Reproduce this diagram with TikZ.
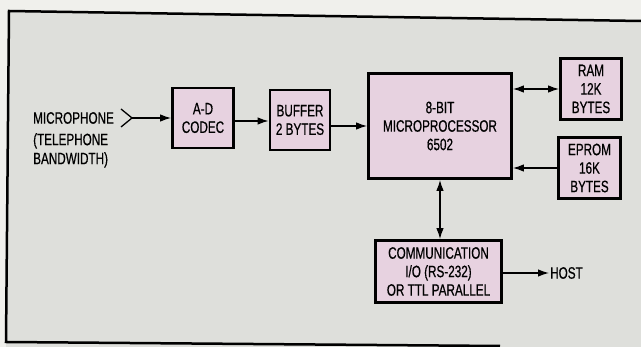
\documentclass[tikz,border=0pt]{standalone}
\usepackage{fontspec}
\setmainfont{Liberation Sans}[FakeStretch=0.71,FakeBold=0.6]
\usetikzlibrary{positioning,arrows.meta}
\definecolor{chip}{RGB}{231,210,224}
\definecolor{paper}{RGB}{222,223,219}
\definecolor{margin}{RGB}{240,240,236}

\begin{document}
\begin{tikzpicture}[x=1pt,y=-1pt, >={Latex[length=11pt,width=7.5pt]},
  blk/.style={draw,line width=2.8pt,fill=chip,align=center,inner sep=0pt,font=\fontsize{16.5}{18.5}\selectfont},
  lbl/.style={align=left,inner sep=1pt,font=\fontsize{16.5}{19}\selectfont},
  wire/.style={line width=1.3pt}]
\useasboundingbox (0,0) rectangle (641,347);
\fill[margin] (0,0) rectangle (641,347);
\fill[paper] (9,11) -- (641,21) -- (641,347) -- (6,347) -- cycle;
\draw[line width=2.5pt] (641,21) -- (9,11) -- (6,342) -- (500,346);
% blocks
\node[blk,minimum width=61pt,minimum height=60pt] (codec) at (203,118) {A-D\\CODEC};
\node[blk,minimum width=60pt,minimum height=60pt] (buffer) at (300,120) {BUFFER\\2 BYTES};
\node[blk,minimum width=143pt,minimum height=105pt] (micro) at (440,126) {8-BIT\\MICROPROCESSOR\\6502};
\node[blk,minimum width=61pt,minimum height=61pt] (ram) at (591,89) {RAM\\12K\\BYTES};
\node[blk,minimum width=62pt,minimum height=61pt] (eprom) at (589.5,168) {EPROM\\16K\\BYTES};
\node[blk,minimum width=126pt,minimum height=62pt] (comm) at (438.5,271.5) {COMMUNICATION\\I/O (RS-232)\\OR TTL PARALLEL};
% labels
\node[lbl,anchor=west] (mic) at (32,118) {MICROPHONE};
\node[lbl,anchor=north west] (band) at ([yshift=-7pt]mic.south west) {(TELEPHONE\\BANDWIDTH)};
\node[lbl,anchor=west] (host) at (549,273) {HOST};
% microphone jack
\coordinate (jack) at (132,118);
\draw[wire] (121,109) -- (jack) -- (121,127);
% connectors
\draw[wire,->] (jack) -- (codec.west);
\draw[wire,->] ([yshift=-3pt]codec.east) -- ([yshift=-3pt]codec.east -| buffer.west);
\draw[wire,->] (buffer.east |- micro.west) -- (micro.west);
\draw[wire,<->] (micro.east |- ram.west) -- (ram.west);
\draw[wire,->] (eprom.west) -- (eprom.west -| micro.east);
\draw[wire,<->] (micro.south) -- (micro.south |- comm.north);
\draw[wire,->] (comm.east |- host.west) -- (host.west);
\end{tikzpicture}
\end{document}
